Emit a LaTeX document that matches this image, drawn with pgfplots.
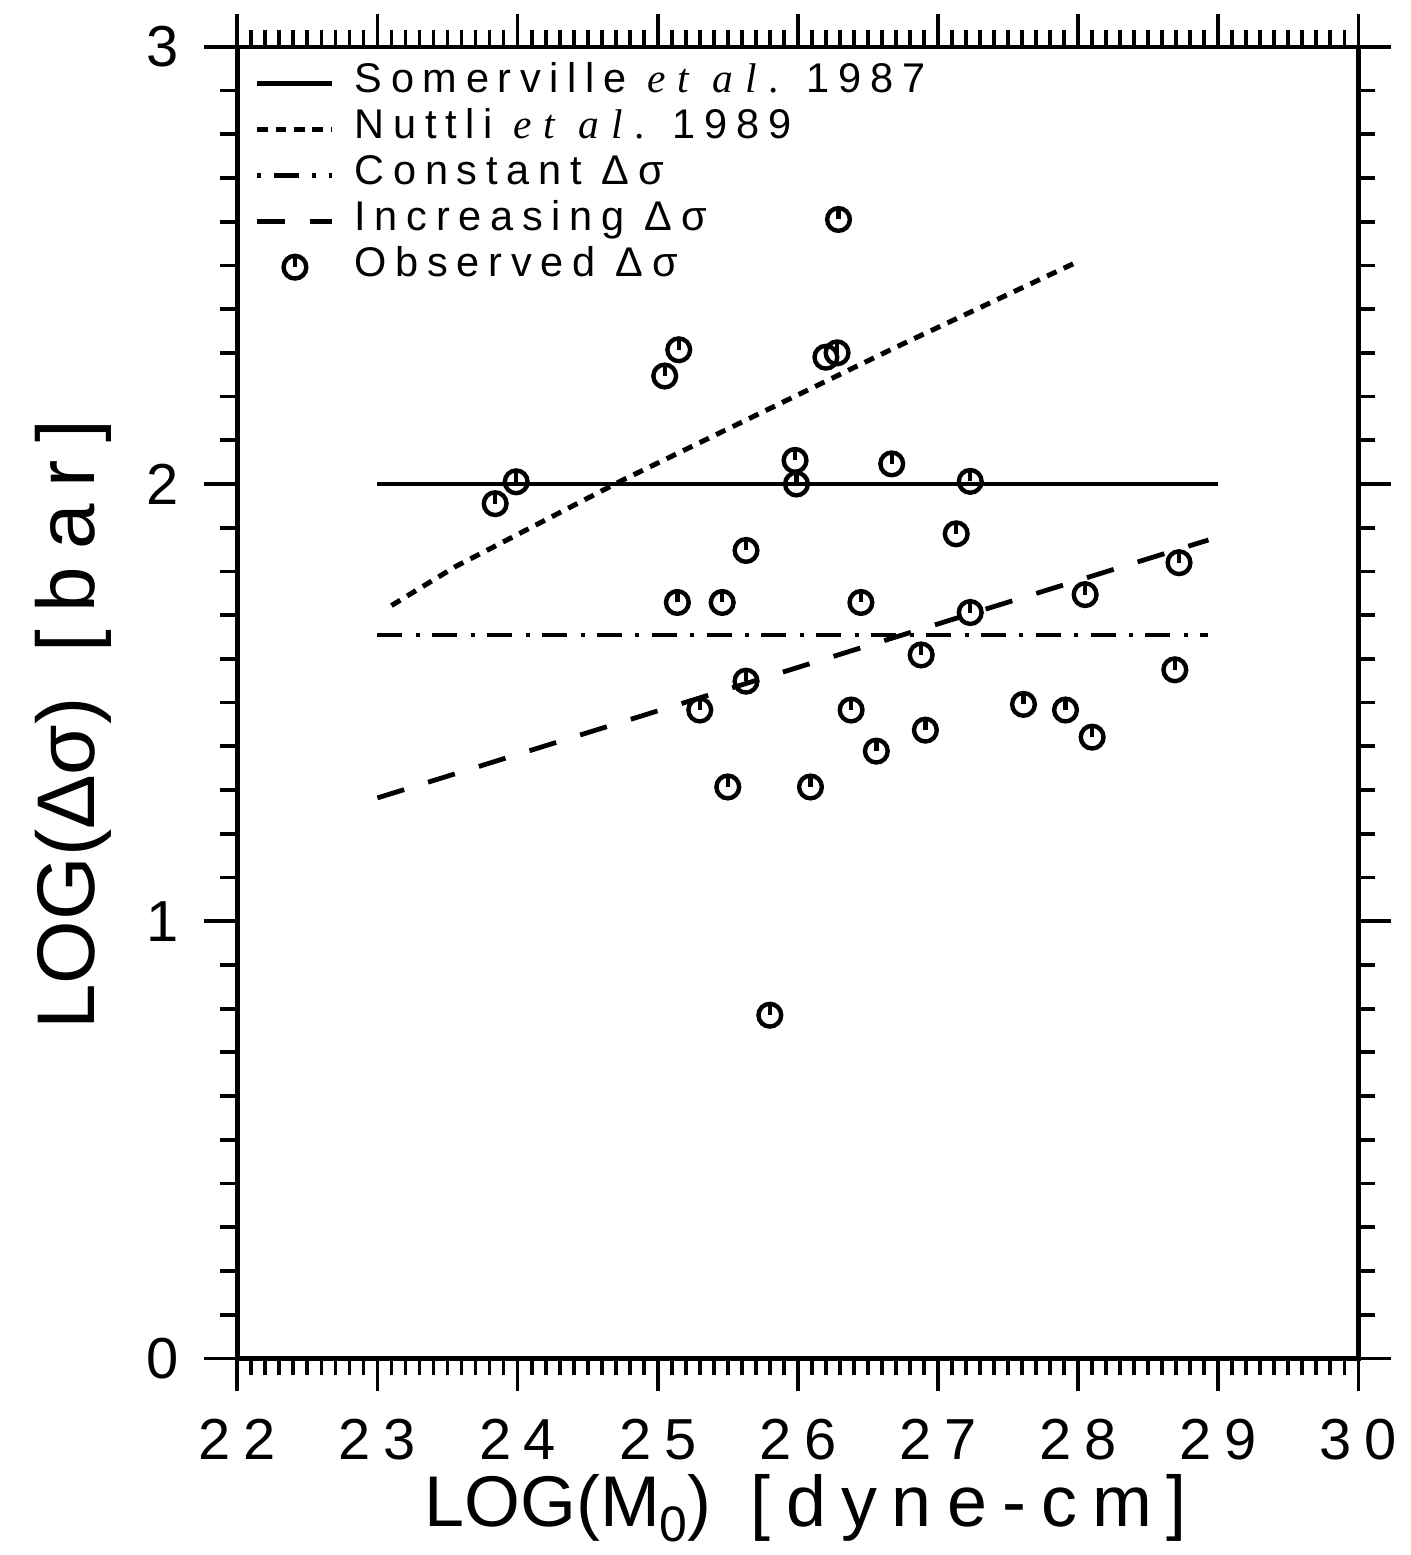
\documentclass[border=0pt]{standalone}
\usepackage{fontspec}
\setmainfont{Liberation Sans}
\usepackage{pgfplots}
\pgfplotsset{compat=1.18}
\newfontfamily\tickfont[LetterSpace=22]{Liberation Sans}
\newfontfamily\spfont[LetterSpace=21]{Liberation Sans}
\newfontfamily\etfont[LetterSpace=30]{Liberation Serif}
\pgfdeclareplotmark{obs}{%
  \pgfpathcircle{\pgfpointorigin}{2.85pt}\pgfusepathqstroke
  \pgfpathmoveto{\pgfpointorigin}\pgfpathlineto{\pgfpoint{0pt}{2.85pt}}\pgfusepathqstroke}
\pgfplotsset{
  linelegend/.style={legend image code/.code={\draw[##1] (0pt,0pt) -- (18.75pt,0pt);}},
  dotlegend/.style={legend image code/.code={\draw[##1, dash phase=9.65pt] (0pt,0pt) -- (18.75pt,0pt);}},
  marklegend/.style={legend image code/.code={\draw[##1] plot coordinates {(9.4pt,0pt)};}},
}
\begin{document}
\begin{tikzpicture}
\begin{axis}[
  scale only axis, width=281pt, height=328.75pt,
  xmin=22, xmax=30, ymin=0, ymax=3,
  xtick={22,23,24,25,26,27,28,29,30},
  xticklabels={22,23,24,25,26,27,28,29,30},
  ytick={0,1,2,3}, yticklabels={0,1,2,3},
  minor x tick num=9, minor y tick num=9,
  tick align=outside,
  major tick length=8.25pt, minor tick length=4.25pt,
  every tick/.style={black, line width=0.95pt},
  axis line style={line width=1.15pt},
  xticklabel style={font=\fontsize{14.5}{16}\selectfont\tickfont, yshift=-3.5pt},
  yticklabel style={font=\fontsize{14.5}{16}\selectfont, xshift=-3pt},
  xlabel={LOG(M\raisebox{-0.4ex}{\fontsize{12.5}{12.5}\selectfont 0})\hspace{0.55em}{\spfont[dyne-cm]}},
  xlabel style={font=\fontsize{18}{20}\selectfont, at={(rel axis cs:0.507,-0.1278)}, anchor=base},
  ylabel={LOG(Δσ)\hspace{0.55em}{\spfont[bar]}},
  ylabel style={font=\fontsize{20.5}{22}\selectfont, at={(rel axis cs:-0.1272,0.483)}, anchor=base},
  clip=false,
  legend cell align=left,
  legend style={at={(rel axis cs:0.015,0.99)}, anchor=north west, draw=none, fill=none,
    inner sep=0pt, column sep=5pt, row sep=0pt,
    font=\fontsize{10.4}{11}\selectfont\spfont,
    nodes={inner sep=0pt, text height=8pt, text depth=3.5pt}},
]
\addplot[black, line width=1.15pt, linelegend] coordinates {(23,2) (29,2)};
\addlegendentry{Somerville {\etfont\itshape et al.} 1987}
\addplot[black, line width=1.25pt, dash pattern=on 2.6pt off 2.0pt, linelegend] coordinates {
(23.1,1.722) (23.556,1.811) (24.744,2.008) (26.70,2.313) (28.0,2.509)};
\addlegendentry{Nuttli {\etfont\itshape et al.} 1989}
\addplot[black, line width=1.15pt, dash pattern=on 6.25pt off 3.4pt on 1pt off 3.1pt, dotlegend] coordinates {(23,1.655) (28.93,1.655)};
\addlegendentry{Constant Δσ}
\addplot[black, line width=1.2pt, dash pattern=on 7pt off 6.3pt, linelegend] coordinates {(23,1.282) (28.93,1.872)};
\addlegendentry{Increasing Δσ}
\addplot[black, only marks, mark=obs, mark options={line width=1.1pt}, marklegend] coordinates {
(26.29,2.605) (25.05,2.247) (25.15,2.307) (26.20,2.290) (26.28,2.300)
(23.84,1.955) (23.99,2.005) (25.98,2.054) (25.99,2.000) (26.67,2.046)
(27.23,2.006) (27.13,1.886) (25.63,1.848) (25.14,1.729) (25.46,1.729)
(26.45,1.729) (27.23,1.706) (28.05,1.747) (28.72,1.820) (25.63,1.549)
(25.30,1.483) (26.38,1.483) (26.88,1.609) (28.69,1.575) (27.61,1.496)
(27.91,1.483) (28.10,1.421) (26.91,1.437) (26.56,1.389) (25.50,1.307)
(26.09,1.307) (25.80,0.785)};
\addlegendentry{Observed Δσ}
\path (rel axis cs:-0.2117,-0.1468) (rel axis cs:1.0258,1.0357);
\end{axis}
\end{tikzpicture}
\end{document}
